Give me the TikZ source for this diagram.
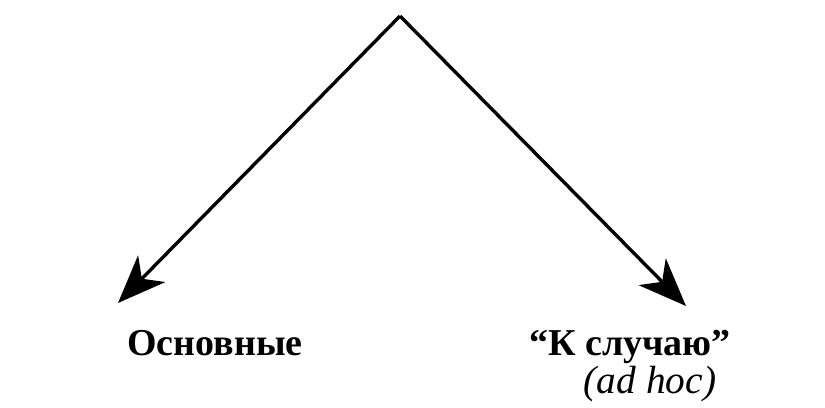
\documentclass[tikz,border=0pt]{standalone}
\usepackage{fontspec}
\setmainfont{Liberation Serif}
\usetikzlibrary{arrows.meta}

\begin{document}
\begin{tikzpicture}[
    branch/.style={line width=2.4pt, -{Stealth[length=1.2cm, width=0.95cm, inset=0.35cm]}},
    label/.style={font=\fontsize{27}{30}\selectfont\bfseries, anchor=base},
    note/.style={font=\fontsize{28}{30}\selectfont\itshape, anchor=base}
  ]
  \useasboundingbox (0,0) rectangle (20.625,10.175);

  % top point and arrow ends
  \coordinate (top) at (10.0,9.775);
  \coordinate (lend) at (2.95,2.6);
  \coordinate (rend) at (17.15,2.525);

  \draw[branch] (top) -- (lend);
  \draw[branch] (top) -- (rend);

  % labels
  \node[label] (basic) at (5.375,1.3) {Основные};
  \node[label] (adhoc) at (15.75,1.3) {“К случаю”};
  \node[note] (latin) at (16.25,0.35) {(ad hoc)};
\end{tikzpicture}
\end{document}
